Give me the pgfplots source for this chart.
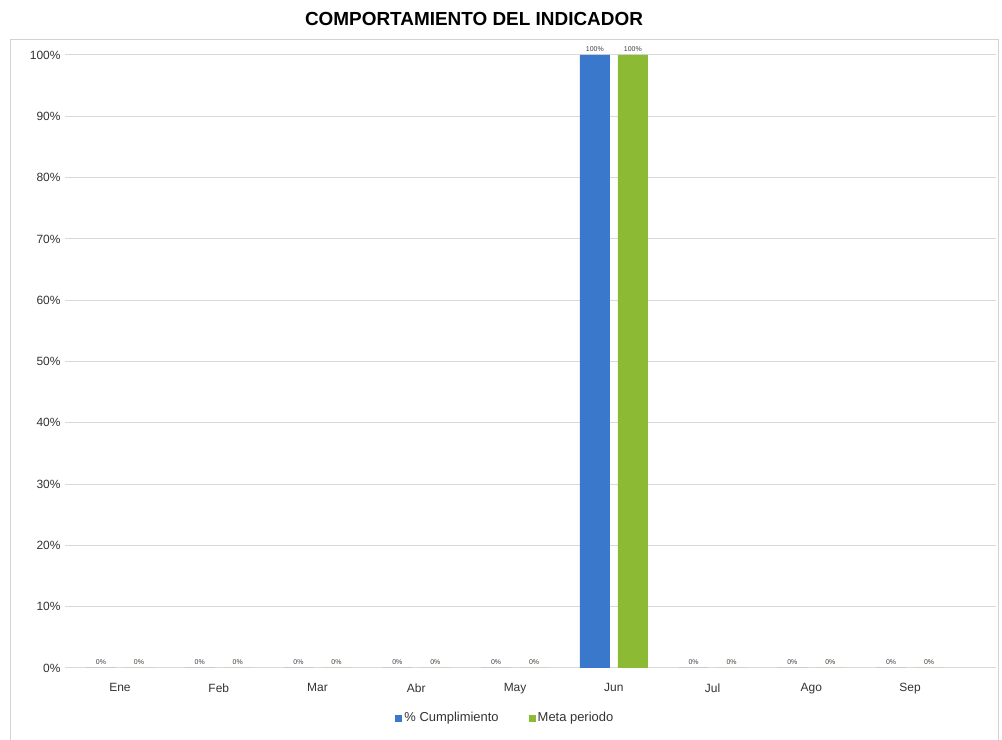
\documentclass[border=0pt]{standalone}
\usepackage{fontspec}
\setmainfont{Liberation Sans}
\usepackage{pgfplots}
\pgfplotsset{compat=1.18}
\definecolor{cumpl}{RGB}{58,120,204}
\definecolor{meta}{RGB}{141,186,52}
\definecolor{gridc}{RGB}{217,217,217}
\begin{document}
\begin{tikzpicture}[x=1bp,y=1bp]
\useasboundingbox (0,0) rectangle (1002,740);
\fill[white] (0,0) rectangle (1002,740);
\draw[gray!35, line width=1bp] (10,-5) -- (10,700) -- (998,700) -- (998,-5);
\node[font=\fontsize{19}{21}\selectfont\bfseries] at (474,721) {COMPORTAMIENTO DEL INDICADOR};
\begin{axis}[
    at={(65bp,72bp)}, anchor=south west,
    scale only axis,
    width=931bp, height=613bp,
    ymin=0, ymax=100,
    xmin=-0.557, xmax=8.87,
    xtick=data,
    xticklabels={Ene,Feb,Mar,Abr,May,Jun,Jul,Ago,Sep},
    ytick={0,10,...,100},
    yticklabel={\pgfmathprintnumber{\tick}\%},
    /pgf/number format/assume math mode=true,
    ticklabel style={font=\fontsize{12}{14}\selectfont, text=black!80},
    xticklabel style={yshift=-12bp},
    yticklabel style={xshift=-1bp},
    major tick length=0pt,
    ymajorgrids,
    grid style={gridc, line width=1bp},
    axis x line*=bottom,
    axis y line*=left,
    x axis line style={gridc, line width=1bp, -},
    y axis line style={draw=none},
    ybar, bar width=30bp,
    nodes near coords={\pgfmathprintnumber[assume math mode=true]{\pgfplotspointmeta}\%},
    nodes near coords style={font=\fontsize{7}{8}\selectfont, text=black!75},
    legend style={draw=none, at={(0.473,-0.0816)}, anchor=center,
        legend columns=2, font=\fontsize{13}{15}\selectfont, text=black!80,
        /tikz/every even column/.append style={column sep=28bp}},
    legend image code/.code={\fill[#1] (0bp,-3.5bp) rectangle (7bp,3.5bp);},
]
\addplot[fill=cumpl, draw=none, bar shift=-19bp] coordinates
  {(0,0) (1,0) (2,0) (3,0) (4,0) (5,100) (6,0) (7,0) (8,0)};
\addplot[fill=meta, draw=none, bar shift=19bp] coordinates
  {(0,0) (1,0) (2,0) (3,0) (4,0) (5,100) (6,0) (7,0) (8,0)};
\legend{\% Cumplimiento, Meta periodo}
\end{axis}
\end{tikzpicture}
\end{document}
